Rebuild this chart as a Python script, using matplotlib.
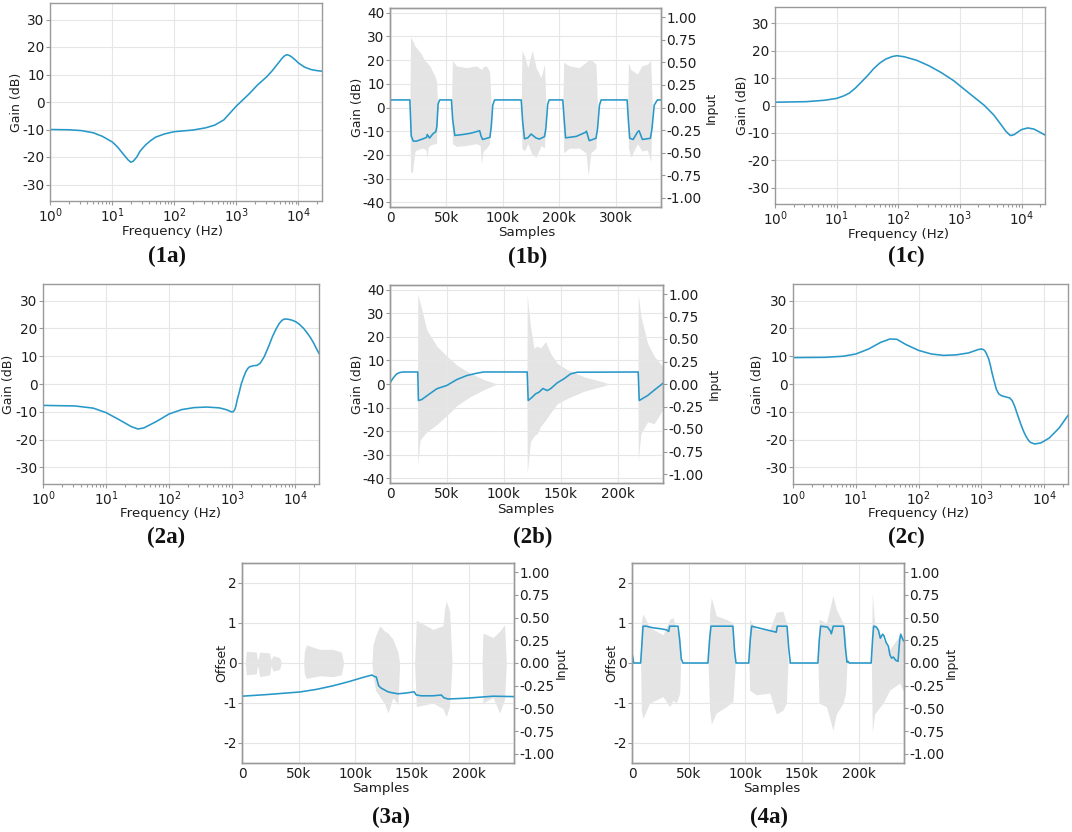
import matplotlib
matplotlib.use('Agg')
import matplotlib.pyplot as plt
from matplotlib.ticker import FixedLocator, FormatStrFormatter, LogLocator, NullFormatter

plt.rcParams['font.family'] = ['DejaVu Sans']
plt.rcParams['axes.unicode_minus'] = False
plt.rcParams['mathtext.default'] = 'regular'

# ---------------- data: frequency responses ----------------
f_1a = [1, 2, 3.2, 5, 7, 10, 11.2, 12.5, 14, 16, 18, 20, 22, 25, 28, 31, 35, 42, 50, 70, 100, 200,
        320, 450, 630, 1000, 1600, 2200, 3100, 3800, 4500, 5000, 5500, 6000, 6500, 7200, 8000, 9000,
        10000, 12500, 16000, 20000, 24000]
g_1a = [-10, -10.1, -10.4, -11.2, -12.5, -14.5, -15.5, -16.6, -18, -19.6, -21, -21.9, -21.5, -20,
        -18, -16.8, -15.5, -14, -12.8, -11.6, -10.8, -10.2, -9.4, -8.4, -6.5, -1.5, 2.9, 6.2, 9.2,
        11.4, 13.5, 14.8, 16, 16.8, 17.2, 16.9, 16.2, 15.2, 14.2, 12.7, 11.8, 11.4, 11.2]

f_1c = [1, 3.2, 6.3, 10, 13, 16, 20, 25, 32, 40, 50, 63, 80, 95, 126, 200, 316, 500, 800, 1000,
        1600, 2500, 3550, 4470, 5600, 6600, 7500, 8300, 10000, 12600, 15800, 20000, 24000]
g_1c = [1.2, 1.4, 1.9, 2.6, 3.5, 4.5, 6.3, 8.5, 11, 13.5, 15.5, 17, 17.9, 18.2, 17.8, 16.5, 14.5,
        12, 9, 7.2, 3.5, 0, -3.5, -6.5, -9.5, -11, -10.7, -10, -8.8, -8.2, -8.6, -9.8, -10.8]

f_2a = [1, 3.2, 6.3, 10, 16, 25, 32, 40, 63, 100, 160, 250, 400, 630, 800, 1000, 1050, 1100, 1150,
        1200, 1300, 1400, 1530, 1660, 1780, 1900, 2200, 2500, 2800, 3240, 3800, 4370, 5000, 5620,
        6200, 6760, 7800, 8900, 10300, 11700, 13700, 15800, 17800, 20000, 22000, 24000]
g_2a = [-7.7, -7.9, -8.7, -10.3, -12.8, -15.3, -16.2, -15.8, -13.5, -10.8, -9.2, -8.5, -8.3, -8.6,
        -9.2, -10.1, -9.9, -9.3, -8, -6, -3, 0, 2.5, 4.5, 5.6, 6.2, 6.6, 6.7, 7.5, 9.8, 13.5, 17,
        19.8, 21.8, 22.9, 23.4, 23.3, 23, 22.4, 21.5, 20, 18.2, 16.5, 14.5, 12.6, 11]

f_2c = [1, 3.2, 6.3, 10, 16, 25, 35, 45, 63, 100, 160, 250, 400, 630, 890, 1000, 1080, 1150, 1230,
        1320, 1400, 1480, 1600, 1740, 1900, 2090, 2400, 2820, 3100, 3390, 3800, 4270, 4700, 5130,
        5600, 6030, 7080, 8900, 12000, 17400, 24000]
g_2c = [9.5, 9.6, 10, 10.8, 12.6, 15, 16.2, 16.1, 14.2, 12.1, 10.8, 10.3, 10.5, 11.2, 12.4, 12.6,
        12.4, 11.8, 10.5, 8.8, 6.5, 4, 1, -2, -3.6, -4.2, -4.6, -5, -6, -8, -11.3, -14.6, -17,
        -18.8, -20.2, -21, -21.6, -21.2, -19.5, -15.8, -11.3]

# ---------------- data: time-domain gain / offset ----------------
t_1b = [0, 17600, 18800, 20600, 23500, 29400, 32400, 33000, 35000, 38200, 40600, 41500, 42600, 44000,
        54400, 55500, 57400, 64700, 72000, 79400, 80600, 82000, 88500, 89700, 91000, 92600,
        116200, 117500, 119100, 122000, 125000, 129400, 132400, 136800, 138000, 139700, 141000,
        153000, 154400, 155500, 165000, 173000, 174000, 175500, 176500, 182400, 183800, 185500, 187000,
        210000, 211200, 212300, 215300, 219400, 220600, 223500, 230600, 232000, 234000, 236800, 240000]
g_1b = [3.2, 3.2, -12, -14.2, -14.2, -13.2, -12.6, -11.4, -12.9, -11, -10.2, -8, 1.5, 3.2,
        3.2, -5, -11.8, -11.4, -10.8, -9.8, -12, -13.5, -12.6, -8, 1, 3.2,
        3.2, -6, -13.2, -12.8, -11.2, -12.9, -13.3, -12.3, -9, 1.5, 3.2,
        3.2, -6, -12.8, -12.2, -10.5, -10, -12.5, -14, -13, -9, 1, 3.2,
        3.2, -6, -13, -13.5, -10.2, -9.8, -13.5, -13, -9, 1, 3.2, 3.2]

t_2b = [0, 2900, 5900, 8800, 11800, 24400, 25000, 27900, 35300, 41200, 50000, 58800, 67600, 76500,
        82300, 120600, 121500, 125000, 127900, 130900, 134400, 138200, 141200, 147000, 152900,
        158800, 164700, 218200, 219100, 226500, 232300, 240000]
g_2b = [0.5, 2.6, 4.3, 4.9, 5.1, 5.1, -7, -6.6, -4, -2, -0.6, 1.9, 3.6, 4.6,
        5.1, 5.1, -7, -5.6, -4.2, -3.5, -1.9, -2.8, -2.0, 0.5, 2.2,
        4.3, 5.0, 5.1, -7, -4.9, -2.6, 0.3]

t_3a = [0, 21500, 50900, 65600, 80300, 95000, 106800, 114700, 116200, 118500, 120600, 122900, 128800,
        131800, 137600, 145000, 151800, 153800, 158200, 168500, 175900, 178200, 181800, 197900,
        221500, 240000]
o_3a = [-0.83, -0.79, -0.725, -0.66, -0.57, -0.46, -0.36, -0.3, -0.33, -0.35, -0.57, -0.63, -0.72,
        -0.74, -0.77, -0.75, -0.72, -0.8, -0.82, -0.82, -0.8, -0.87, -0.9, -0.88, -0.83, -0.84]

t_4a = [0, 1500, 7600, 8800, 9700, 12600, 18500, 24400, 30300, 32400, 33200, 40600, 42000, 43500,
        45000, 67000, 68500, 69700, 89000, 90500, 91800, 103000, 104400, 105600, 115600, 127300,
        128200, 136800, 138200, 139700, 164000, 165300, 166500, 172400, 175000, 175900, 177600,
        186800, 188200, 189700, 190600, 191800, 211000, 212300, 213200, 215600, 217400, 219100,
        221200, 222300, 224100, 226200, 227600, 229100, 230600, 232600, 234700, 236200, 237100,
        239100, 240000]
o_4a = [0.25, 0, 0, 0.5, 0.92, 0.92, 0.88, 0.86, 0.83, 0.79, 0.92, 0.92, 0.6, 0.1,
        0, 0, 0.6, 0.92, 0.92, 0.3, 0, 0, 0.6, 0.92, 0.85, 0.77,
        0.92, 0.92, 0.4, 0, 0, 0.6, 0.92, 0.9, 0.8, 0.73, 0.92,
        0.92, 0.4, 0.02, 0.04, 0, 0, 0.6, 0.92, 0.9, 0.82, 0.62,
        0.72, 0.68, 0.52, 0.42, 0.2, 0.12, 0.15, 0.07, 0.04, 0.58, 0.72,
        0.58, 0.55]

# ---------------- data: input signal envelopes (upper / lower) ----------------
in_t_1b = [17600, 18200, 20000, 22000, 23500, 27900, 29400, 32000, 32900, 33800, 35300, 36800, 39700, 41200, 42300,
           54400, 55300, 58800, 67600, 76500, 79800, 80900, 82500, 85300, 88200, 89700,
           116200, 116800, 119100, 122000, 125900, 129400, 133800, 136800, 138200,
           153000, 153800, 158800, 167600, 173500, 175500, 177900, 182400, 183800,
           210300, 211200, 213200, 219100, 223000, 228000, 230900, 232300]
in_hi_1b = [0, 0.78, 0.74, 0.68, 0.66, 0.59, 0.55, 0.5, 0.5, 0.48, 0.46, 0.42, 0.35, 0.29, 0,
            0, 0.52, 0.46, 0.44, 0.46, 0.43, 0.42, 0.45, 0.46, 0.4, 0,
            0, 0.63, 0.57, 0.44, 0.63, 0.44, 0.33, 0.48, 0,
            0, 0.5, 0.46, 0.44, 0.5, 0.52, 0.53, 0.48, 0,
            0, 0.5, 0.42, 0.37, 0.46, 0.48, 0.52, 0]
in_lo_1b = [0, -0.72, -0.71, -0.49, -0.47, -0.45, -0.45, -0.47, -0.56, -0.44, -0.42, -0.41, -0.4, -0.4, 0,
            0, -0.4, -0.43, -0.42, -0.4, -0.42, -0.62, -0.48, -0.45, -0.4, 0,
            0, -0.45, -0.48, -0.4, -0.52, -0.55, -0.42, -0.45, 0,
            0, -0.5, -0.45, -0.45, -0.5, -0.75, -0.5, -0.45, 0,
            0, -0.45, -0.55, -0.4, -0.48, -0.47, -0.6, 0]

in_t_2b = [24200, 24400, 26500, 32400, 41200, 50000, 58800, 70600, 82300, 94100,
           120400, 120600, 123500, 126500, 129400, 132400, 136800, 141200, 147000, 155900, 170600, 188200, 192600,
           218000, 218200, 220600, 226500, 232300, 240000]
in_hi_2b = [0, 1.0, 0.9, 0.6, 0.42, 0.31, 0.21, 0.12, 0.05, 0,
            0, 0.99, 0.64, 0.4, 0.42, 0.4, 0.47, 0.34, 0.23, 0.16, 0.08, 0.02, 0,
            0, 1.0, 0.75, 0.45, 0.31, 0.19]
in_lo_2b = [0, -0.9, -0.62, -0.53, -0.45, -0.35, -0.24, -0.14, -0.065, 0,
            0, -0.99, -0.64, -0.58, -0.55, -0.47, -0.4, -0.32, -0.22, -0.16, -0.08, -0.02, 0,
            0, -0.85, -0.55, -0.42, -0.44, -0.28]

in_t_3a = [2900, 3800, 12600, 13500, 14100, 15600, 24400, 25400, 25900, 27400, 33200, 34700,
           54400, 55000, 56800, 68500, 80300, 87600, 89700,
           114700, 115600, 117900, 121500, 125900, 128800, 133200, 137600, 139100,
           152300, 153800, 168500, 177300, 178800, 180300, 183200, 185300,
           211800, 212600, 221500, 227300, 231700, 233200]
in_hi_3a = [0, 0.13, 0.12, 0.04, 0.04, 0.12, 0.11, 0.04, 0.04, 0.08, 0.06, 0,
            0, 0.12, 0.2, 0.15, 0.15, 0.12, 0,
            0, 0.2, 0.3, 0.41, 0.35, 0.33, 0.26, 0.12, 0,
            0, 0.47, 0.37, 0.41, 0.6, 0.68, 0.57, 0,
            0, 0.33, 0.28, 0.35, 0.42, 0]
in_lo_3a = [0, -0.13, -0.12, -0.04, -0.04, -0.15, -0.13, -0.04, -0.04, -0.09, -0.07, 0,
            0, -0.12, -0.17, -0.14, -0.15, -0.13, 0,
            0, -0.15, -0.3, -0.37, -0.45, -0.55, -0.38, -0.46, 0,
            0, -0.48, -0.44, -0.5, -0.55, -0.59, -0.47, 0,
            0, -0.44, -0.38, -0.55, -0.4, 0]

in_t_4a = [7600, 8200, 9700, 15600, 27400, 33200, 36200, 39100, 42100, 42900,
           67100, 68500, 70000, 74400, 83200, 89100, 91200,
           103200, 103800, 109700, 121500, 127300, 133200, 136200, 137600,
           164100, 165000, 171500, 177300, 180300, 186200, 188500, 189700,
           211200, 212000, 214100, 221500, 227300, 236200, 239100, 240000]
in_hi_4a = [0, 0.45, 0.54, 0.39, 0.31, 0.48, 0.5, 0.37, 0.3, 0,
            0, 0.56, 0.72, 0.52, 0.48, 0.44, 0,
            0, 0.48, 0.37, 0.37, 0.56, 0.57, 0.44, 0,
            0, 0.48, 0.44, 0.74, 0.59, 0.44, 0.3, 0,
            0, 0.76, 0.44, 0.26, 0.15, 0.3, 0.26, 0.26]
in_lo_4a = [0, -0.52, -0.61, -0.44, -0.37, -0.48, -0.41, -0.44, -0.33, 0,
            0, -0.52, -0.67, -0.55, -0.48, -0.42, 0,
            0, -0.3, -0.35, -0.33, -0.56, -0.52, -0.44, 0,
            0, -0.44, -0.48, -0.74, -0.56, -0.44, -0.33, 0,
            0, -0.76, -0.56, -0.44, -0.3, -0.22, -0.3, -0.3]

# ---------------- ticks ----------------
freq_ticks = [1, 10, 100, 1000, 10000]
gain_ticks_f = [-30, -20, -10, 0, 10, 20, 30]
gain_ticks_t = [-40, -30, -20, -10, 0, 10, 20, 30, 40]
offset_ticks = [-2, -1, 0, 1, 2]
input_ticks = [-1.0, -0.75, -0.5, -0.25, 0.0, 0.25, 0.5, 0.75, 1.0]
sample_ticks = [0, 50000, 100000, 150000, 200000]
sample_labels = ['0', '50k', '100k', '150k', '200k']
sample_labels_1b = ['0', '50k', '100k', '200k', '300k']

# ---------------- styling ----------------
W, H = 1072, 832
fig = plt.figure(figsize=(W / 100, H / 100), dpi=100)
SPINE = '#9a9a9a'
GRID = '#e6e6e6'
TXT = '#1e1e1e'
LINE = '#2798c8'
FILL = '#e4e4e4'
TS = 9.8     # tick label size
LS = 9.6     # x axis label size
YLS = 9.0    # y axis label size


def box(rect):
    l, t, r, b = rect
    return fig.add_axes([l / W, 1 - b / H, (r - l) / W, (b - t) / H])


def style(ax, grid=True):
    for s in ax.spines.values():
        s.set_color(SPINE)
        s.set_linewidth(1.0)
    if grid:
        ax.grid(True, which='major', color=GRID, linewidth=0.8)
    ax.tick_params(which='both', color=SPINE, labelcolor=TXT, labelsize=TS, width=0.8)
    ax.tick_params(which='major', length=3)
    ax.tick_params(which='minor', length=2)
    ax.tick_params(axis='y', pad=1)
    ax.tick_params(axis='x', pad=1)


def place(ax, rect, xlab, ylab_right_px, axr=None, yr_px=None):
    l, t, r, b = rect
    w, h = r - l, b - t
    cx, top = xlab
    ax.xaxis.set_label_coords((cx - l) / w, (b - top) / h)
    ax.yaxis.set_label_coords((ylab_right_px - l) / w, 0.5)
    if axr is not None:
        axr.yaxis.set_label_coords((yr_px - l) / w, 0.5)


def freq_panel(rect, f, g, xlab, ylab_px):
    ax = box(rect)
    ax.plot(f, g, color=LINE, lw=1.15)
    ax.set_xscale('log')
    ax.set_xlim(1, 24000)
    ax.set_ylim(-36, 36)
    ax.set_yticks(gain_ticks_f)
    ax.xaxis.set_major_locator(FixedLocator(freq_ticks))
    ax.xaxis.set_minor_locator(LogLocator(base=10, subs=range(2, 10)))
    ax.xaxis.set_minor_formatter(NullFormatter())
    style(ax)
    ax.set_xlabel('Frequency (Hz)', fontsize=LS, color=TXT)
    ax.set_ylabel('Gain (dB)', fontsize=YLS, color=TXT)
    place(ax, rect, xlab, ylab_px)
    return ax


def time_panel(rect, t, y, it, ihi, ilo, ylim, yticks, ylabel, xlabels, xlab, ylab_px, yr_px):
    ax = box(rect)
    axr = ax.twinx()
    axr.fill_between(it, ilo, ihi, color=FILL, lw=0)
    ax.plot(t, y, color=LINE, lw=1.15)
    ax.set_zorder(axr.get_zorder() + 1)
    ax.patch.set_visible(False)
    ax.set_xlim(0, 240000)
    ax.set_ylim(*ylim)
    ax.set_yticks(yticks)
    ax.set_xticks(sample_ticks)
    ax.set_xticklabels(xlabels)
    axr.set_ylim(-1.1, 1.1)
    axr.set_yticks(input_ticks)
    axr.yaxis.set_major_formatter(FormatStrFormatter('%.2f'))
    style(ax)
    style(axr, grid=False)
    ax.tick_params(axis='x', length=0, pad=3)
    ax.set_xlabel('Samples', fontsize=LS, color=TXT)
    ax.set_ylabel(ylabel, fontsize=YLS, color=TXT)
    axr.set_ylabel('Input', fontsize=YLS, color=TXT)
    place(ax, rect, xlab, ylab_px, axr, yr_px)
    return ax


R1a = (50, 3, 322, 201)
R1b = (390, 8, 661, 207)
R1c = (775, 7, 1045, 204)
R2a = (43, 284, 319, 484)
R2b = (390, 285, 663, 483)
R2c = (793, 284, 1068, 484)
R3a = (242, 563, 514, 763)
R4a = (632, 563, 904, 763)

freq_panel(R1a, f_1a, g_1a, (173, 225), 23)
time_panel(R1b, t_1b, g_1b, in_t_1b, in_hi_1b, in_lo_1b, (-42, 42), gain_ticks_t, 'Gain (dB)',
           sample_labels_1b, (527, 226), 364, 705)
freq_panel(R1c, f_1c, g_1c, (898, 228), 749)
freq_panel(R2a, f_2a, g_2a, (170, 507), 15)
time_panel(R2b, t_2b, g_2b, in_t_2b, in_hi_2b, in_lo_2b, (-42, 42), gain_ticks_t, 'Gain (dB)',
           sample_labels, (526, 503), 364, 708)
freq_panel(R2c, f_2c, g_2c, (918, 507), 764)
time_panel(R3a, t_3a, o_3a, in_t_3a, in_hi_3a, in_lo_3a, (-2.5, 2.5), offset_ticks, 'Offset',
           sample_labels, (381, 782), 228, 555)
time_panel(R4a, t_4a, o_4a, in_t_4a, in_hi_4a, in_lo_4a, (-2.5, 2.5), offset_ticks, 'Offset',
           sample_labels, (772, 782), 618, 945)

panel_labels = ['(1a)', '(1b)', '(1c)', '(2a)', '(2b)', '(2c)', '(3a)', '(4a)']
label_pos = [(167, 256), (528, 257), (906, 256), (166, 537), (533, 537), (906, 537), (391, 817), (769, 817)]
for txt, (x, y) in zip(panel_labels, label_pos):
    fig.text(x / W, 1 - y / H, txt, ha='center', va='center', fontsize=16.5, fontweight='bold',
             family=['Liberation Serif', 'DejaVu Serif'], color='#111111')

fig.savefig('out.png', dpi=100)
